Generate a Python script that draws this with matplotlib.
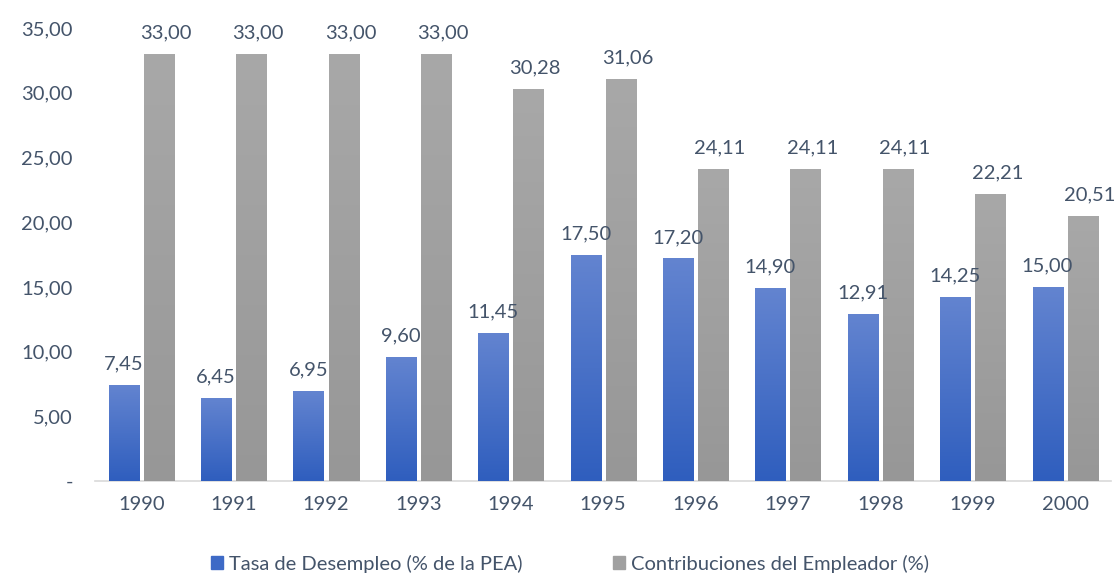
import numpy as np
import matplotlib.pyplot as plt
from matplotlib.patches import Patch

years = ['1990', '1991', '1992', '1993', '1994', '1995', '1996', '1997', '1998', '1999', '2000']
desempleo = [7.45, 6.45, 6.95, 9.60, 11.45, 17.50, 17.20, 14.90, 12.91, 14.25, 15.00]
contrib = [33.00, 33.00, 33.00, 33.00, 30.28, 31.06, 24.11, 24.11, 24.11, 22.21, 20.51]
yticks = [0, 5, 10, 15, 20, 25, 30, 35]
ytick_labels = ['-', '5,00', '10,00', '15,00', '20,00', '25,00', '30,00', '35,00']

txt = '#44546A'
fs = 14.5
plt.rcParams['font.family'] = ['Lato', 'DejaVu Sans']

fig = plt.figure(figsize=(11.18, 5.75), dpi=100)
ax = fig.add_axes([0.085, 0.1635, 0.909, 0.7875])

x = np.arange(len(years))
w = 0.325
off = 0.19


def grad_bars(xs, vals, top, bottom):
    bars = ax.bar(xs, vals, width=w, color=bottom, linewidth=0, zorder=2)
    cmap = plt.matplotlib.colors.LinearSegmentedColormap.from_list('g', [bottom, top])
    g = np.linspace(0, 1, 256).reshape(-1, 1)
    for b in bars:
        x0, y0 = b.get_x(), b.get_y()
        im = ax.imshow(g, cmap=cmap, origin='lower', aspect='auto',
                       extent=[x0, x0 + b.get_width(), y0, y0 + b.get_height()], zorder=3)
        im.set_clip_path(b)
    return bars


b1 = grad_bars(x - off, desempleo, '#6384D0', '#2F5EBE')
b2 = grad_bars(x + off, contrib, '#A8A8A8', '#979797')

for xi, v in zip(x - off, desempleo):
    ax.annotate(f'{v:.2f}'.replace('.', ','), (xi, v), xytext=(0, 9), textcoords='offset points',
                ha='center', va='bottom', fontsize=fs, color=txt)
for xi, v in zip(x + off, contrib):
    ax.annotate(f'{v:.2f}'.replace('.', ','), (xi, v), xytext=(5, 9), textcoords='offset points',
                ha='center', va='bottom', fontsize=fs, color=txt)

ax.set_xlim(-0.5, len(years) - 0.5)
ax.set_ylim(0, 35)
ax.set_xticks(x)
ax.set_xticklabels(years)
ax.set_yticks(yticks)
ax.set_yticklabels(ytick_labels)
ax.tick_params(length=0, labelsize=fs, colors=txt)
ax.tick_params(axis='x', pad=11)
ax.tick_params(axis='y', pad=16)
for s in ['top', 'right', 'left']:
    ax.spines[s].set_visible(False)
ax.spines['bottom'].set_color('#D9D9D9')
ax.spines['bottom'].set_linewidth(1.2)

handles = [Patch(color='#3E6AC6'), Patch(color='#A0A0A0')]
fig.legend(handles, ['Tasa de Desempleo (% de la PEA)', 'Contribuciones del Empleador (%)'],
           loc='center', bbox_to_anchor=(0.51, 0.02), ncol=2, frameon=False, fontsize=fs,
           labelcolor=txt, handlelength=0.6, handleheight=0.6, handletextpad=0.3, columnspacing=4.5)

fig.savefig('out.png', dpi=100)
